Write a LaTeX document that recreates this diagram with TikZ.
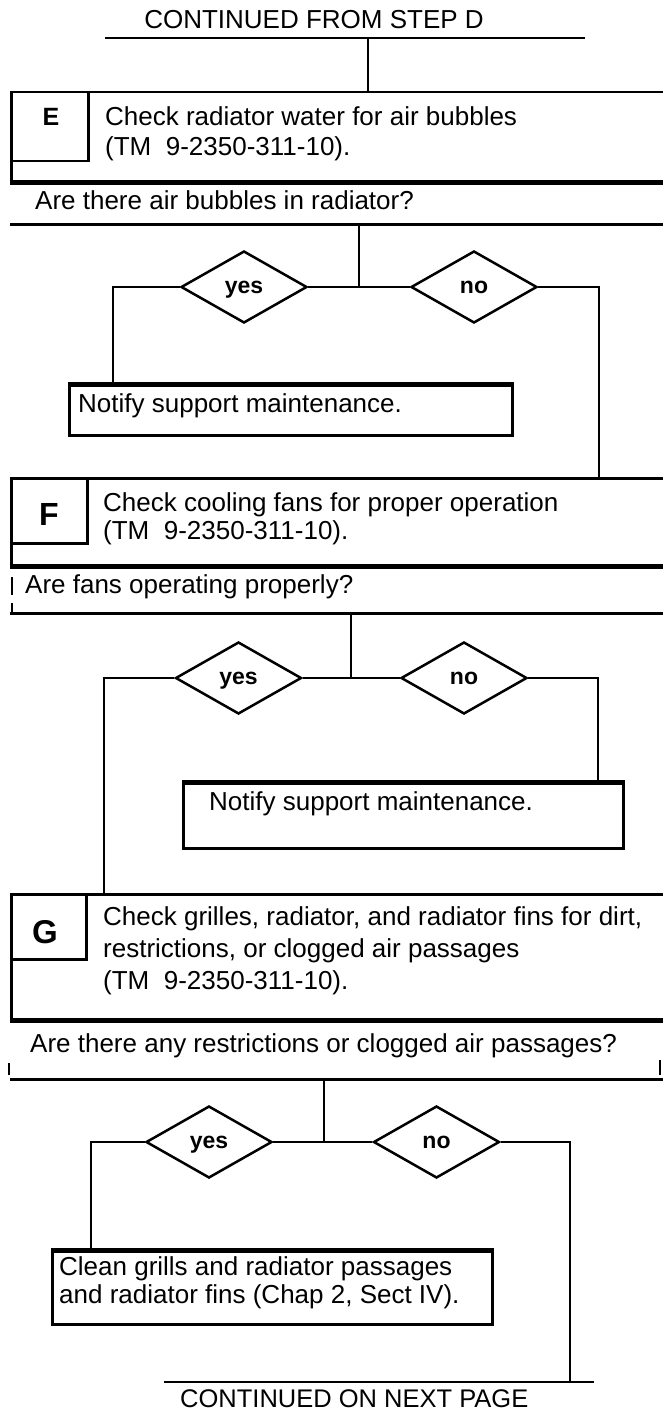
\documentclass[tikz,border=0pt]{standalone}
\usepackage{fontspec}
\setmainfont{Liberation Sans}
\usetikzlibrary{shapes.geometric}
\begin{document}
\begin{tikzpicture}[x=1pt,y=-1pt,
  txt/.style={inner sep=0pt, anchor=base west, font=\fontsize{26}{30}\selectfont},
  ctr/.style={inner sep=0pt, anchor=base, font=\fontsize{26}{30}\selectfont},
  frame/.style={draw, line width=2.5pt, inner sep=0pt, anchor=north west},
  band/.style={inner sep=0pt, anchor=north west, minimum width=656pt},
  letterf/.style={inner sep=0pt, anchor=base, font=\bfseries\fontsize{#1}{#1}\selectfont},
  dec/.style={diamond, draw, line width=2.5pt, inner sep=0pt, minimum width=126pt, minimum height=72pt, text depth=0pt, font=\bfseries\fontsize{23}{23}\selectfont},
  conn/.style={line width=2.6pt},
  heavy/.style={line width=4.5pt},
  tick/.style={line width=2pt}]

\useasboundingbox (0,0) rectangle (662,1412);

% ---------- top ----------
\node[ctr] (from) at (314,29) {CONTINUED FROM STEP D};
\coordinate (fromL) at (105,38);
\coordinate (fromR) at (585,38);
\coordinate (fromJ) at (368,38);
\draw[conn] (fromL) -- (fromR);

% ---------- step E ----------
\node[frame, minimum width=656pt, minimum height=89pt] (stepE) at (10,91) {};
\node[frame, minimum width=77pt, minimum height=69pt] (letE) at (10,91) {};
\node[letterf=25] (labE) at (51,126) {E};
\node[txt] (tE1) at (105,126) {Check radiator water for air bubbles};
\node[txt] (tE2) at (105,156) {(TM\ \ 9-2350-311-10).};
\draw[heavy] (stepE.south west) -- (stepE.south east);
\draw[conn] (fromJ) -- (stepE.north -| fromJ);

\node[band, minimum height=44pt] (qE) at (10,180) {};
\node[txt] (qEt) at (35,210) {Are there air bubbles in radiator?};
\draw[conn] (qE.south west) -- (qE.south east);

\coordinate (jE) at (359,287);
\node[dec] (yesE) at (244,287) {yes};
\node[dec] (noE) at (474,287) {no};
\draw[conn] (qE.south -| jE) -- (jE);
\draw[conn] (yesE.east) -- (noE.west);

\node[frame, minimum width=443pt, minimum height=50pt] (notE) at (68,384) {};
\node[txt] (notEt) at (78,412) {Notify support maintenance.};
\draw[line width=3.5pt] (notE.north west) -- (notE.north east);
\coordinate (xE1) at (113,0);
\draw[conn] (yesE.west) -| (notE.north -| xE1);

% ---------- step F ----------
\node[frame, minimum width=656pt, minimum height=87pt] (stepF) at (10,477) {};
\node[frame, minimum width=76pt, minimum height=65pt] (letF) at (10,477) {};
\node[letterf=32] (labF) at (49,525) {F};
\node[txt] (tF1) at (103,511) {Check cooling fans for proper operation};
\node[txt] (tF2) at (103,539) {(TM\ \ 9-2350-311-10).};
\draw[heavy] (stepF.south west) -- (stepF.south east);
\coordinate (xE2) at (599,0);
\draw[conn] (noE.east) -| (stepF.north -| xE2);

\node[band, minimum height=49pt] (qF) at (10,564) {};
\node[txt] (qFt) at (25,593) {Are fans operating properly?};
\draw[conn] (qF.south west) -- (qF.south east);
\draw[tick] (12,577) -- (12,595);
\draw[tick] (12,603) -- (12,613);

\coordinate (jF) at (351,678);
\node[dec] (yesF) at (238.5,678) {yes};
\node[dec] (noF) at (464,678) {no};
\draw[conn] (qF.south -| jF) -- (jF);
\draw[conn] (yesF.east) -- (noF.west);

\node[frame, minimum width=440pt, minimum height=65pt] (notF) at (182,782) {};
\node[txt] (notFt) at (209,810) {Notify support maintenance.};
\draw[line width=3.5pt] (notF.north west) -- (notF.north east);
\coordinate (xF2) at (598,0);
\draw[conn] (noF.east) -| (notF.north -| xF2);

% ---------- step G ----------
\node[frame, minimum width=656pt, minimum height=125pt] (stepG) at (10,893) {};
\node[frame, minimum width=75pt, minimum height=65pt] (letG) at (10,893) {};
\node[letterf=33] (labG) at (45,943) {G};
\node[txt] (tG1) at (103,925) {Check grilles, radiator, and radiator fins for dirt,};
\node[txt] (tG2) at (103,957) {restrictions, or clogged air passages};
\node[txt] (tG3) at (103,989) {(TM\ \ 9-2350-311-10).};
\draw[heavy] (stepG.south west) -- (stepG.south east);
\coordinate (xF1) at (104,0);
\draw[conn] (yesF.west) -| (stepG.north -| xF1);

\node[band, minimum height=61pt] (qG) at (10,1018) {};
\node[txt] (qGt) at (30,1052) {Are there any restrictions or clogged air passages?};
\draw[conn] (qG.south west) -- (qG.south east);
\draw[tick] (9,1063) -- (9,1075);
\draw[tick] (660,1060) -- (660,1075);

\coordinate (jG) at (324,1142);
\node[dec] (yesG) at (209,1142) {yes};
\node[dec] (noG) at (436.5,1142) {no};
\draw[conn] (qG.south -| jG) -- (jG);
\draw[conn] (yesG.east) -- (noG.west);

\node[frame, minimum width=440pt, minimum height=73pt] (clean) at (51,1250) {};
\node[txt] (cleant1) at (59,1275) {Clean grills and radiator passages};
\node[txt] (cleant2) at (59,1303) {and radiator fins (Chap 2, Sect IV).};
\draw[line width=3.5pt] (clean.north west) -- (clean.north east);
\coordinate (xG1) at (91,0);
\draw[conn] (yesG.west) -| (clean.north -| xG1);

% ---------- bottom ----------
\coordinate (nextL) at (164,1382);
\coordinate (nextR) at (594,1382);
\coordinate (xG2) at (570,0);
\draw[conn] (nextL) -- (nextR);
\draw[conn] (noG.east) -| (nextL -| xG2);
\node[txt, font=\fontsize{25.5}{30}\selectfont] (next) at (180,1407) {CONTINUED ON NEXT PAGE};
\end{tikzpicture}
\end{document}
